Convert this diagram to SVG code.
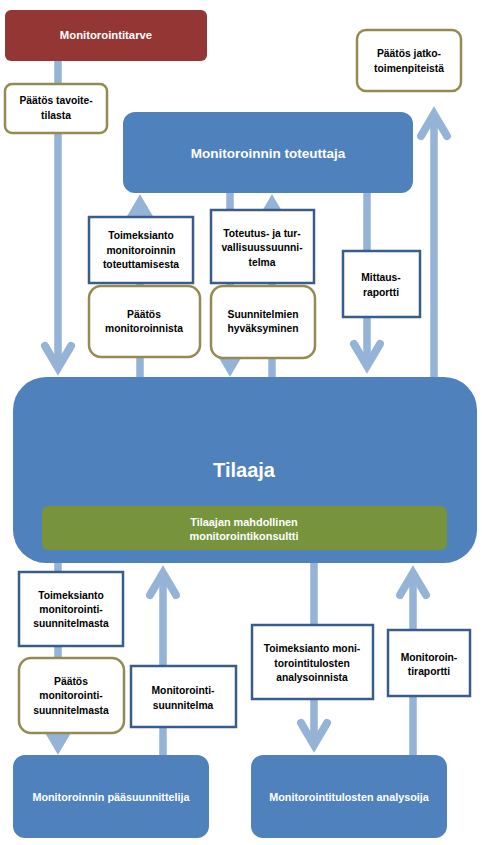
<svg xmlns="http://www.w3.org/2000/svg" width="482" height="845" viewBox="0 0 482 845">
<style>
.bg{fill:#ffffff}
.shaft{stroke:#95B3D7;stroke-width:7.5;fill:none}
.head{stroke:#95B3D7;stroke-width:8;fill:none;stroke-linecap:round;stroke-linejoin:miter;stroke-miterlimit:10}
.actor{fill:#4F81BD}
.need{fill:#943634}
.cons{fill:#77933C}
.dec{fill:#ffffff;stroke:#948A54;stroke-width:2.5}
.doc{fill:#ffffff;stroke:#385D8A;stroke-width:2.5}
.wt{font-family:"Liberation Sans",Arial,sans-serif;font-weight:bold;fill:#ffffff;text-anchor:middle}
.lb{font-family:"Liberation Sans",Arial,sans-serif;font-weight:bold;fill:#000000;text-anchor:middle;font-size:10.3px}
</style>
<rect class="bg" x="0" y="0" width="482" height="845"/>
<g id="connectors">
  <line class="shaft" x1="58" y1="60" x2="58" y2="366"/>
  <path class="head" d="M45,346 L58,368 L71,346"/>
  <line class="shaft" x1="434" y1="378" x2="434" y2="116"/>
  <path class="head" d="M421,136 L434,114 L447,136"/>
  <line class="shaft" x1="140" y1="378" x2="140" y2="204"/>
  <path class="head" d="M127,224 L140,202 L153,224"/>
  <line class="shaft" x1="230" y1="192" x2="230" y2="367"/>
  <path class="head" d="M217,347 L230,369 L243,347"/>
  <line class="shaft" x1="272" y1="378" x2="272" y2="204"/>
  <path class="head" d="M259,224 L272,202 L285,224"/>
  <line class="shaft" x1="367" y1="192" x2="367" y2="364"/>
  <path class="head" d="M354,344 L367,366 L380,344"/>
  <line class="shaft" x1="58" y1="562" x2="58" y2="745"/>
  <path class="head" d="M45,725 L58,747 L71,725"/>
  <line class="shaft" x1="163" y1="756" x2="163" y2="575"/>
  <path class="head" d="M150,595 L163,573 L176,595"/>
  <line class="shaft" x1="314" y1="562" x2="314" y2="743"/>
  <path class="head" d="M301,723 L314,745 L327,723"/>
  <line class="shaft" x1="413" y1="756" x2="413" y2="575"/>
  <path class="head" d="M400,595 L413,573 L426,595"/>
</g>
<g id="monitorointitarve">
  <rect class="need" x="5" y="10" width="202" height="51" rx="6"/>
  <text class="wt" x="106" y="39" font-size="11.3">Monitorointitarve</text>
</g>
<g id="paatos-tavoitetilasta">
  <rect class="dec" x="5" y="84" width="102" height="49" rx="7"/>
  <text class="lb" x="56" y="104">Päätös tavoite-</text>
  <text class="lb" x="56" y="119">tilasta</text>
</g>
<g id="paatos-jatkotoimenpiteista">
  <rect class="dec" x="357" y="30" width="104" height="61" rx="9"/>
  <text class="lb" x="409" y="57">Päätös jatko-</text>
  <text class="lb" x="409" y="72">toimenpiteistä</text>
</g>
<g id="toteuttaja">
  <rect class="actor" x="123" y="112" width="290" height="81" rx="12"/>
  <text class="wt" x="268" y="158" font-size="13.5">Monitoroinnin toteuttaja</text>
</g>
<g id="toimeksianto-toteuttamisesta">
  <rect class="doc" x="89" y="217" width="104" height="66"/>
  <text class="lb" x="141" y="239">Toimeksianto</text>
  <text class="lb" x="141" y="254">monitoroinnin</text>
  <text class="lb" x="141" y="268">toteuttamisesta</text>
</g>
<g id="paatos-monitoroinnista">
  <rect class="dec" x="89" y="286" width="111" height="71" rx="12"/>
  <text class="lb" x="144" y="318">Päätös</text>
  <text class="lb" x="144" y="332">monitoroinnista</text>
</g>
<g id="toteutus-suunnitelma">
  <rect class="doc" x="211" y="210" width="103" height="73"/>
  <text class="lb" x="262" y="237">Toteutus- ja tur-</text>
  <text class="lb" x="262" y="251">vallisuussuunni-</text>
  <text class="lb" x="262" y="266">telma</text>
</g>
<g id="suunnitelmien-hyvaksyminen">
  <rect class="dec" x="211" y="286" width="104" height="72" rx="12"/>
  <text class="lb" x="263" y="318">Suunnitelmien</text>
  <text class="lb" x="263" y="332">hyväksyminen</text>
</g>
<g id="mittausraportti">
  <rect class="doc" x="343" y="251" width="77" height="66"/>
  <text class="lb" x="381" y="281">Mittaus-</text>
  <text class="lb" x="381" y="296">raportti</text>
</g>
<g id="tilaaja">
  <rect class="actor" x="13" y="377" width="464" height="186" rx="33"/>
  <text class="wt" x="244" y="477" font-size="20">Tilaaja</text>
</g>
<g id="konsultti">
  <rect class="cons" x="42" y="506" width="405" height="44" rx="6"/>
  <text class="wt" x="244" y="526" font-size="10.9">Tilaajan mahdollinen</text>
  <text class="wt" x="244" y="540" font-size="10.9">monitorointikonsultti</text>
</g>
<g id="toimeksianto-suunnitelmasta">
  <rect class="doc" x="19" y="572" width="104" height="74"/>
  <text class="lb" x="71" y="599">Toimeksianto</text>
  <text class="lb" x="71" y="613">monitorointi-</text>
  <text class="lb" x="71" y="627">suunnitelmasta</text>
</g>
<g id="paatos-suunnitelmasta">
  <rect class="dec" x="19" y="658" width="105" height="75" rx="12"/>
  <text class="lb" x="71" y="685">Päätös</text>
  <text class="lb" x="71" y="699">monitorointi-</text>
  <text class="lb" x="71" y="714">suunnitelmasta</text>
</g>
<g id="monitorointisuunnitelma">
  <rect class="doc" x="131" y="666" width="105" height="61"/>
  <text class="lb" x="183" y="694">Monitorointi-</text>
  <text class="lb" x="183" y="709">suunnitelma</text>
</g>
<g id="toimeksianto-analysoinnista">
  <rect class="doc" x="252" y="625" width="121" height="74"/>
  <text class="lb" x="312" y="652">Toimeksianto  moni-</text>
  <text class="lb" x="312" y="667">torointitulosten</text>
  <text class="lb" x="312" y="681">analysoinnista</text>
</g>
<g id="monitorointiraportti">
  <rect class="doc" x="388" y="630" width="82" height="66"/>
  <text class="lb" x="429" y="661">Monitoroin-</text>
  <text class="lb" x="429" y="675">tiraportti</text>
</g>
<g id="paasuunnittelija">
  <rect class="actor" x="13" y="755" width="196" height="83" rx="12"/>
  <text class="wt" x="111" y="801" font-size="10.8">Monitoroinnin pääsuunnittelija</text>
</g>
<g id="analysoija">
  <rect class="actor" x="251" y="755" width="196" height="83" rx="12"/>
  <text class="wt" x="349" y="801" font-size="10.8">Monitorointitulosten analysoija</text>
</g>
</svg>
